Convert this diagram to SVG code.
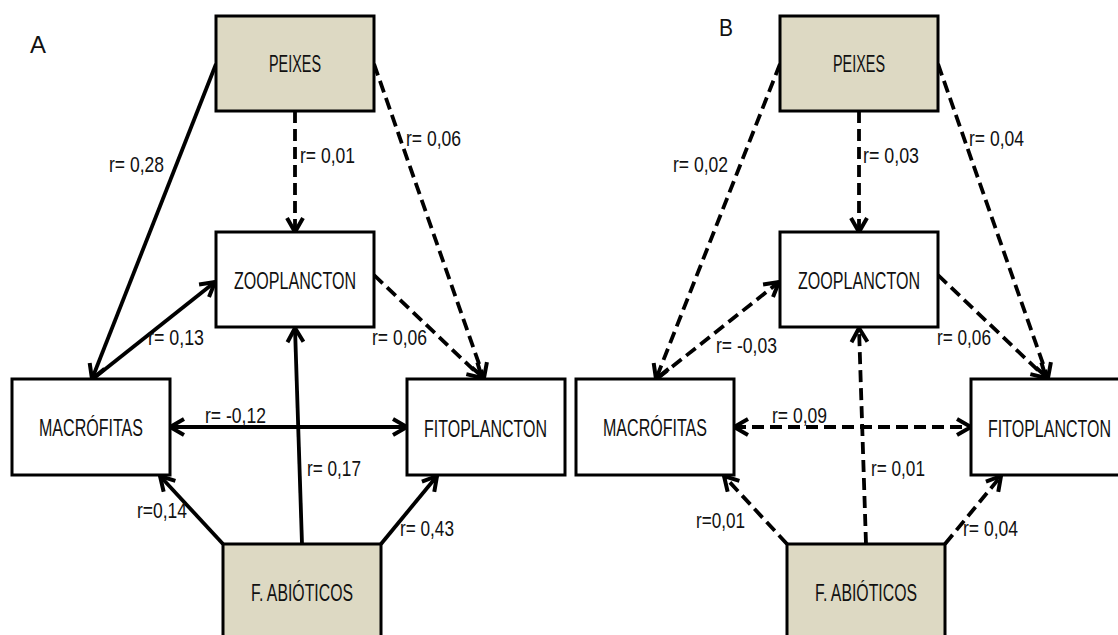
<svg xmlns="http://www.w3.org/2000/svg" width="1118" height="635" viewBox="0 0 1118 635">
<style>
.box{stroke:#000;stroke-width:3;fill:#fff}
.drv{fill:#DDD9C3}
.t{font-family:"Liberation Sans",Arial,sans-serif;font-size:23.5px;fill:#111}
.r{font-family:"Liberation Sans",Arial,sans-serif;font-size:22.5px;fill:#111}
.c{fill:none;stroke:#000;stroke-width:3.8}
.d{stroke-dasharray:12 6}
</style>
<defs>
<marker id="ah" viewBox="0 0 20 20" refX="17" refY="10" markerWidth="20" markerHeight="20" markerUnits="userSpaceOnUse" orient="auto-start-reverse">
<path d="M3,2 L17,10 L3,18" fill="none" stroke="#000" stroke-width="4" stroke-dasharray="none" stroke-linejoin="miter"/>
</marker>
</defs>
<rect width="1118" height="635" fill="#fff"/>
<text class="t" x="30" y="53" textLength="16" lengthAdjust="spacingAndGlyphs">A</text>
<text class="t" x="719" y="36" textLength="14" lengthAdjust="spacingAndGlyphs">B</text>
<g id="connectors">
<g id="connectors-A">
<line class="c" x1="216" y1="64" x2="92" y2="379" marker-end="url(#ah)"/>
<line class="c" x1="94" y1="378" x2="215" y2="282" marker-end="url(#ah)"/>
<line class="c d" x1="295" y1="111" x2="295" y2="232" marker-end="url(#ah)"/>
<line class="c d" x1="374" y1="64" x2="484" y2="378" marker-end="url(#ah)"/>
<line class="c d" x1="374" y1="275" x2="482" y2="378" marker-end="url(#ah)"/>
<line class="c" x1="170" y1="427" x2="407" y2="427" marker-start="url(#ah)" marker-end="url(#ah)"/>
<line class="c" x1="302" y1="544" x2="295" y2="328" marker-end="url(#ah)"/>
<line class="c" x1="223" y1="544" x2="160" y2="476" marker-end="url(#ah)"/>
<line class="c" x1="381" y1="544" x2="437" y2="476" marker-end="url(#ah)"/>
</g>
<g id="connectors-B">
<line class="c d" x1="780" y1="64" x2="656" y2="379" marker-end="url(#ah)"/>
<line class="c d" x1="658" y1="378" x2="779" y2="282" marker-end="url(#ah)"/>
<line class="c d" x1="859" y1="111" x2="859" y2="232" marker-end="url(#ah)"/>
<line class="c d" x1="938" y1="64" x2="1048" y2="378" marker-end="url(#ah)"/>
<line class="c d" x1="938" y1="275" x2="1046" y2="378" marker-end="url(#ah)"/>
<line class="c d" x1="734" y1="427" x2="971" y2="427" marker-start="url(#ah)" marker-end="url(#ah)"/>
<line class="c d" x1="866" y1="544" x2="859" y2="328" marker-end="url(#ah)"/>
<line class="c d" x1="787" y1="544" x2="724" y2="476" marker-end="url(#ah)"/>
<line class="c d" x1="945" y1="544" x2="1001" y2="476" marker-end="url(#ah)"/>
</g>
</g>
<g id="labels-A">
<text class="r" x="109" y="172" textLength="55" lengthAdjust="spacingAndGlyphs">r= 0,28</text>
<text class="r" x="300" y="163" textLength="55" lengthAdjust="spacingAndGlyphs">r= 0,01</text>
<text class="r" x="406" y="146" textLength="55" lengthAdjust="spacingAndGlyphs">r= 0,06</text>
<text class="r" x="148" y="345" textLength="56" lengthAdjust="spacingAndGlyphs">r= 0,13</text>
<text class="r" x="372" y="345" textLength="55" lengthAdjust="spacingAndGlyphs">r= 0,06</text>
<text class="r" x="205" y="423" textLength="61" lengthAdjust="spacingAndGlyphs">r= -0,12</text>
<text class="r" x="307" y="476" textLength="54" lengthAdjust="spacingAndGlyphs">r= 0,17</text>
<text class="r" x="137" y="518" textLength="50" lengthAdjust="spacingAndGlyphs">r=0,14</text>
<text class="r" x="400" y="536" textLength="54" lengthAdjust="spacingAndGlyphs">r= 0,43</text>
</g>
<g id="labels-B">
<text class="r" x="673" y="172" textLength="55" lengthAdjust="spacingAndGlyphs">r= 0,02</text>
<text class="r" x="863" y="163" textLength="56" lengthAdjust="spacingAndGlyphs">r= 0,03</text>
<text class="r" x="969" y="146" textLength="55" lengthAdjust="spacingAndGlyphs">r= 0,04</text>
<text class="r" x="716" y="353" textLength="61" lengthAdjust="spacingAndGlyphs">r= -0,03</text>
<text class="r" x="937" y="345" textLength="54" lengthAdjust="spacingAndGlyphs">r= 0,06</text>
<text class="r" x="772" y="423" textLength="55" lengthAdjust="spacingAndGlyphs">r= 0,09</text>
<text class="r" x="871" y="476" textLength="54" lengthAdjust="spacingAndGlyphs">r= 0,01</text>
<text class="r" x="696" y="528" textLength="49" lengthAdjust="spacingAndGlyphs">r=0,01</text>
<text class="r" x="963" y="536" textLength="55" lengthAdjust="spacingAndGlyphs">r= 0,04</text>
</g>
<g id="A-peixes"><rect class="box drv" x="216" y="16" width="158" height="95"/><text class="t" x="269" y="72" textLength="52" lengthAdjust="spacingAndGlyphs">PEIXES</text></g>
<g id="A-zooplancton"><rect class="box" x="216" y="232" width="158" height="95"/><text class="t" x="234" y="289" textLength="122" lengthAdjust="spacingAndGlyphs">ZOOPLANCTON</text></g>
<g id="A-macrofitas"><rect class="box" x="12" y="379" width="158" height="96"/><text class="t" x="39" y="436" textLength="104" lengthAdjust="spacingAndGlyphs">MACRÓFITAS</text></g>
<g id="A-fitoplancton"><rect class="box" x="407" y="379" width="158" height="96"/><text class="t" x="424" y="437" textLength="123" lengthAdjust="spacingAndGlyphs">FITOPLANCTON</text></g>
<g id="A-abioticos"><rect class="box drv" x="223" y="544" width="158" height="102"/><text class="t" x="251" y="601" textLength="102" lengthAdjust="spacingAndGlyphs">F. ABIÓTICOS</text></g>
<g id="B-peixes"><rect class="box drv" x="780" y="16" width="158" height="95"/><text class="t" x="833" y="72" textLength="52" lengthAdjust="spacingAndGlyphs">PEIXES</text></g>
<g id="B-zooplancton"><rect class="box" x="780" y="232" width="158" height="95"/><text class="t" x="798" y="289" textLength="122" lengthAdjust="spacingAndGlyphs">ZOOPLANCTON</text></g>
<g id="B-macrofitas"><rect class="box" x="576" y="379" width="158" height="96"/><text class="t" x="603" y="436" textLength="104" lengthAdjust="spacingAndGlyphs">MACRÓFITAS</text></g>
<g id="B-fitoplancton"><rect class="box" x="971" y="379" width="158" height="96"/><text class="t" x="988" y="437" textLength="123" lengthAdjust="spacingAndGlyphs">FITOPLANCTON</text></g>
<g id="B-abioticos"><rect class="box drv" x="787" y="544" width="158" height="102"/><text class="t" x="815" y="601" textLength="102" lengthAdjust="spacingAndGlyphs">F. ABIÓTICOS</text></g>
</svg>
